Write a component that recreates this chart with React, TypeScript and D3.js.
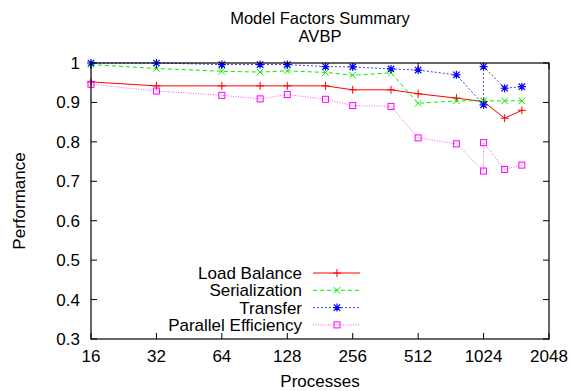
import * as d3 from 'd3';

const processes = [16, 32, 64, 96, 128, 192, 256, 384, 512, 768, 1024, 1024, 1280, 1536];
const loadBalance = [0.952, 0.942, 0.942, 0.942, 0.942, 0.942, 0.932, 0.932, 0.922, 0.911, 0.902, 0.902, 0.86, 0.88];
const serialization = [0.996, 0.986, 0.979, 0.977, 0.98, 0.976, 0.969, 0.975, 0.898, 0.904, 0.904, 0.904, 0.904, 0.904];
const transfer = [1.0, 1.0, 0.996, 0.996, 0.996, 0.991, 0.99, 0.985, 0.982, 0.97, 0.894, 0.991, 0.936, 0.94];
const parallelEfficiency = [0.946, 0.929, 0.918, 0.909, 0.92, 0.908, 0.892, 0.89, 0.81, 0.795, 0.726, 0.798, 0.73, 0.741];

const xTicks = [16, 32, 64, 128, 256, 512, 1024, 2048];
const yTicks = [0.3, 0.4, 0.5, 0.6, 0.7, 0.8, 0.9, 1];

type Marker = 'plus' | 'cross' | 'star' | 'square';

const seriesList: { name: string; values: number[]; color: string; lineColor: string; dash: string; marker: Marker }[] = [
  { name: 'Load Balance', values: loadBalance, color: '#ff0000', lineColor: '#ff0000', dash: '', marker: 'plus' },
  { name: 'Serialization', values: serialization, color: '#00ee00', lineColor: '#00ee00', dash: '4,3', marker: 'cross' },
  { name: 'Transfer', values: transfer, color: '#0000ff', lineColor: '#3c3cff', dash: '2,2', marker: 'star' },
  { name: 'Parallel Efficiency', values: parallelEfficiency, color: '#ff00ff', lineColor: '#ff55ff', dash: '1,1.5', marker: 'square' },
];

const width = 572;
const height = 391;
const margin = { top: 63, right: 23, bottom: 52, left: 91 };
const font = '"Liberation Sans", Arial, Helvetica, sans-serif';

const MarkerShape = ({ type, x, y, color }: { type: Marker; x: number; y: number; color: string }) => {
  const s = 4;
  if (type === 'plus') {
    return <path d={`M${x - s},${y}H${x + s}M${x},${y - s}V${y + s}`} stroke={color} strokeWidth={1} />;
  }
  if (type === 'cross') {
    const c = 3.2;
    return <path d={`M${x - c},${y - c}L${x + c},${y + c}M${x - c},${y + c}L${x + c},${y - c}`} stroke={color} strokeWidth={1} />;
  }
  if (type === 'star') {
    const c = 3.2;
    return (
      <path
        d={`M${x - s},${y}H${x + s}M${x},${y - s}V${y + s}M${x - c},${y - c}L${x + c},${y + c}M${x - c},${y + c}L${x + c},${y - c}`}
        stroke={color}
        strokeWidth={1.2}
      />
    );
  }
  return <rect x={x - 3} y={y - 3} width={6} height={6} fill="none" stroke={color} strokeWidth={1} />;
};

const App = () => {
  const x = d3.scaleLog().base(2)
    .domain([16, 2048])
    .range([margin.left, width - margin.right]);

  const y = d3.scaleLinear()
    .domain([0.3, 1])
    .range([height - margin.bottom, margin.top]);

  const line = d3.line<number>()
    .x((_, i) => x(processes[i]))
    .y(d => y(d));

  const left = margin.left;
  const right = width - margin.right;
  const top = margin.top;
  const bottom = height - margin.bottom;
  const tick = 6;

  const legendX = 302;
  const legendY = 273;
  const legendStep = 17.3;

  return (
    <div style={{ position: 'fixed', left: 0, top: 0 }}>
      <svg width={width} height={height} style={{ display: 'block', background: '#fff' }} fontFamily={font}>
        <text x={(left + right) / 2} y={24} textAnchor="middle" fontSize={16.5}>Model Factors Summary</text>
        <text x={(left + right) / 2} y={42} textAnchor="middle" fontSize={16.5}>AVBP</text>

        {/* ticks */}
        <g stroke="#000" strokeWidth={1}>
          {xTicks.map(t => (
            <g key={t}>
              <line x1={x(t)} x2={x(t)} y1={bottom} y2={bottom - tick} />
              <line x1={x(t)} x2={x(t)} y1={top} y2={top + tick} />
            </g>
          ))}
          {yTicks.map(t => (
            <g key={t}>
              <line x1={left} x2={left + tick} y1={y(t)} y2={y(t)} />
              <line x1={right} x2={right - tick} y1={y(t)} y2={y(t)} />
            </g>
          ))}
        </g>

        {xTicks.map(t => (
          <text key={t} x={x(t)} y={bottom + 23} textAnchor="middle" fontSize={17}>{t}</text>
        ))}
        {yTicks.map(t => (
          <text key={t} x={left - 11} y={y(t) + 6} textAnchor="end" fontSize={17}>{d3.format('~g')(t)}</text>
        ))}

        <text x={(left + right) / 2} y={387} textAnchor="middle" fontSize={17}>Processes</text>
        <text transform={`translate(25,${(top + bottom) / 2}) rotate(-90)`} textAnchor="middle" fontSize={17}>Performance</text>

        {/* legend */}
        {seriesList.map((s, i) => {
          const ly = legendY + i * legendStep;
          return (
            <g key={s.name}>
              <text x={legendX} y={ly + 6} textAnchor="end" fontSize={17}>{s.name}</text>
              <line x1={313} x2={360} y1={ly} y2={ly} stroke={s.lineColor} strokeWidth={1} strokeDasharray={s.dash} />
              <MarkerShape type={s.marker} x={337} y={ly} color={s.color} />
            </g>
          );
        })}

        {/* series */}
        {seriesList.map(s => (
          <g key={s.name}>
            <path d={line(s.values) ?? ''} fill="none" stroke={s.lineColor} strokeWidth={1} strokeDasharray={s.dash} />
            {s.values.map((v, i) => (
              <MarkerShape key={i} type={s.marker} x={x(processes[i])} y={y(v)} color={s.color} />
            ))}
          </g>
        ))}

        <rect x={left} y={top} width={right - left} height={bottom - top} fill="none" stroke="#000" strokeWidth={1.2} />
      </svg>
    </div>
  );
};

export default App;
